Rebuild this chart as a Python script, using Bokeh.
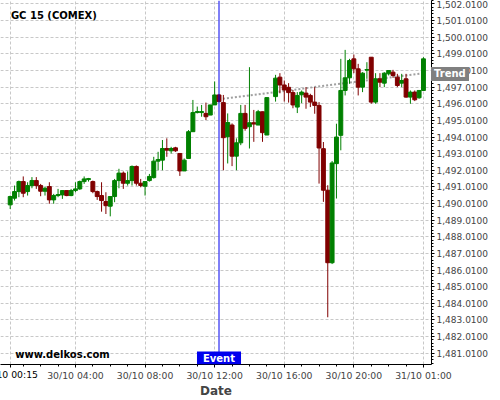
import numpy as np
from bokeh.plotting import figure
from bokeh.models import Range1d, FixedTicker, NumeralTickFormatter, Label, Span, ColumnDataSource
from bokeh.models.dom import Div as DomDiv
from bokeh.embed import file_html
from bokeh.resources import INLINE

NaN = float("nan")

# ---- data (15-minute bars, index based x axis) ----
bar_index = list(range(96))
opens = [1489.93, 1490.33, 1490.73, 1491.33, 1490.73, 1491.09, 1491.39, 1491.09, 1490.75, 1491.03,
         1490.23, 1490.49, 1490.53, 1490.79, 1490.49, 1490.79, 1490.89, 1491.33, 1491.45, 1491.33,
         1490.73, 1490.49, 1490.13, 1489.85, 1490.43, 1491.39, 1491.84, 1491.23, 1491.39, 1492.24,
         1491.23, 1491.05, 1491.39, 1491.57, 1492.56, 1492.62, 1493.32, 1493.18, 1493.36, 1493.02,
         1491.97, 1492.72, 1494.33, 1495.48, 1495.48, 1495.43, 1495.33, 1495.94, 1496.54, 1496.08,
         1494.03, 1494.73, 1492.86, 1493.66, 1495.43, 1494.63, 1494.87, 1494.73, 1495.53, 1494.13,
         NaN, 1496.44, 1497.61, 1497.14, 1497.00, 1496.68, 1495.81, 1496.55, 1496.65, 1496.51,
         1496.11, 1495.91, 1493.31, 1490.81, 1486.45, 1492.41, 1494.11, 1496.81, 1497.57, 1498.71,
         1498.11, 1497.01, 1498.03, 1498.81, 1496.11, 1497.51, 1497.25, 1497.81, 1497.91, 1497.61,
         1497.25, 1497.51, 1496.41, 1496.71, 1496.37, 1496.81]
highs = [1490.49, 1491.09, 1491.39, 1491.64, 1491.29, 1491.60, 1491.60, 1491.19, 1491.03, 1491.29,
         1490.59, 1490.89, 1490.79, 1490.79, 1490.89, 1491.29, 1491.39, 1491.64, 1491.55, 1491.39,
         1490.79, 1491.29, 1490.69, 1490.43, 1491.49, 1492.10, 1491.94, 1491.94, 1492.30, 1492.30,
         1491.49, 1491.33, 1491.79, 1492.82, 1493.12, 1493.83, 1493.93, 1493.42, 1493.42, 1493.02,
         1492.72, 1494.43, 1496.24, 1495.84, 1495.94, 1496.08, 1495.94, 1497.35, 1496.60, 1496.54,
         1495.43, 1494.83, 1493.93, 1495.94, 1495.94, 1498.21, 1495.64, 1495.64, 1495.54, 1496.38,
         NaN, 1497.75, 1497.85, 1497.41, 1497.25, 1496.84, 1496.71, 1496.81, 1497.01, 1496.61,
         1497.01, 1496.11, 1493.71, 1491.11, 1492.57, 1494.81, 1498.71, 1499.25, 1498.71, 1498.97,
         1498.41, 1497.91, 1498.51, 1498.81, 1497.85, 1497.85, 1497.91, 1498.01, 1498.05, 1497.81,
         1497.81, 1497.81, 1496.81, 1496.81, 1496.81, 1498.81]
lows = [1489.68, 1490.19, 1490.39, 1490.39, 1490.49, 1490.93, 1490.89, 1490.45, 1490.49, 1490.00,
        1490.00, 1490.39, 1490.29, 1490.45, 1490.45, 1490.69, 1490.83, 1491.19, 1491.33, 1490.63,
        1490.23, 1489.52, 1489.38, 1489.24, 1490.09, 1490.93, 1490.89, 1491.09, 1491.09, 1491.09,
        1490.99, 1490.49, 1491.33, 1491.51, 1492.01, 1492.01, 1492.82, 1493.02, 1493.12, 1491.67,
        1491.97, 1492.72, 1494.33, 1495.43, 1495.23, 1495.03, 1495.33, 1495.94, 1496.10, 1492.01,
        1492.42, 1492.26, 1492.01, 1493.52, 1494.39, 1493.32, 1493.72, 1494.73, 1493.72, 1494.13,
        NaN, 1496.14, 1496.64, 1496.14, 1496.08, 1495.74, 1495.45, 1496.05, 1495.71, 1495.81,
        1495.41, 1491.21, 1490.11, 1483.17, 1486.37, 1490.31, 1493.21, 1496.51, 1497.21, 1497.85,
        1496.51, 1496.71, 1497.51, 1496.01, 1496.01, 1497.01, 1497.01, 1497.71, 1497.57, 1497.01,
        1497.01, 1496.37, 1496.01, 1496.17, 1496.31, 1496.81]
closes = [1490.43, 1490.73, 1491.33, 1490.63, 1491.09, 1491.39, 1491.09, 1490.75, 1490.93, 1490.23,
          1490.49, 1490.55, 1490.79, 1490.49, 1490.79, 1490.89, 1491.33, 1491.49, 1491.51, 1490.73,
          1490.43, 1490.19, 1489.88, 1490.43, 1491.39, 1491.84, 1491.23, 1491.39, 1492.24, 1491.23,
          1491.09, 1491.33, 1491.64, 1492.56, 1492.66, 1493.32, 1493.22, 1493.32, 1493.18, 1491.97,
          1492.62, 1494.33, 1495.48, 1495.54, 1495.54, 1495.23, 1495.94, 1496.54, 1496.14, 1493.97,
          1494.88, 1492.86, 1493.66, 1495.43, 1494.53, 1494.87, 1494.79, 1495.53, 1494.27, 1496.38,
          NaN, 1497.55, 1497.14, 1496.84, 1496.68, 1495.94, 1496.51, 1496.71, 1496.41, 1496.11,
          1495.91, 1493.35, 1490.81, 1486.45, 1492.45, 1494.01, 1496.81, 1497.57, 1498.61, 1498.11,
          1497.01, 1497.85, 1498.07, 1496.11, 1497.51, 1497.31, 1497.85, 1498.01, 1497.71, 1497.11,
          1497.41, 1496.41, 1496.71, 1496.25, 1496.81, 1498.71]

x_tick_positions = [0, 15, 31, 47, 63, 79, 95]
x_tick_labels = ["30/10 00:15", "30/10 04:00", "30/10 08:00", "30/10 12:00",
                 "30/10 16:00", "30/10 20:00", "31/10 01:00"]
x_minor_positions = [3, 7, 11, 19, 23, 27, 35, 39, 43, 51, 55, 59, 67, 71, 75, 83, 87, 91]
y_ticks = [1481.01, 1482.01, 1483.01, 1484.01, 1485.01, 1486.01, 1487.01, 1488.01, 1489.01, 1490.01,
           1491.01, 1492.01, 1493.01, 1494.01, 1495.01, 1496.01, 1497.01, 1498.01, 1499.01, 1500.01,
           1501.01, 1502.01]

event_index = 48
event_text = "Event"
trend_index = [48, 95]
trend_values = [1496.28, 1497.85]
trend_text = "Trend"
title_text = "GC 15 (COMEX)"
watermark_text = "www.delkos.com"

# ---- build ----
o = np.array(opens, dtype=float)
c = np.array(closes, dtype=float)
up = c >= o
colors = np.where(up, "#008000", "#800000")
src = ColumnDataSource(dict(
    x=bar_index, high=highs, low=lows,
    top=np.fmax(o, c), bottom=np.fmin(o, c), color=list(colors),
))

FONT = "DejaVu Sans"
X0, X1 = -2.23, 96.85
Y0, Y1 = 1480.33, 1502.22
W, H = 500, 400
BORDER_R, BORDER_B = 69, 36
p = figure(width=W, height=H, x_range=Range1d(X0, X1), y_range=Range1d(Y0, Y1),
           y_axis_location="right", toolbar_location=None, output_backend="svg",
           min_border_left=0, min_border_top=0, min_border_right=BORDER_R, min_border_bottom=BORDER_B)
p.outline_line_color = None
p.background_fill_color = "white"
p.border_fill_color = "white"

# axes
xa = p.xaxis[0]
xa.ticker = FixedTicker(ticks=x_tick_positions, minor_ticks=x_minor_positions)
# the first label is cut by the left edge in the original; it is drawn below as a clipped element
xa.major_label_overrides = {pos: (lab if i > 0 else " ")
                            for i, (pos, lab) in enumerate(zip(x_tick_positions, x_tick_labels))}
xa.axis_label = "Date"
xa.axis_label_text_font = FONT
xa.axis_label_text_font_style = "bold"
xa.axis_label_text_font_size = "12px"
xa.axis_label_standoff = 0
xa.major_label_text_font = FONT
xa.major_label_text_font_size = "9.3px"
xa.major_label_standoff = 2
xa.major_tick_out = 3
xa.major_tick_in = 0
xa.minor_tick_out = 2
xa.minor_tick_in = 0
xa.axis_line_color = "black"

ya = p.yaxis[0]
minor_y = [v / 5.0 for v in range(int(1480.41 * 5), int(1502.2 * 5) + 1)]
ya.ticker = FixedTicker(ticks=y_ticks, minor_ticks=[m + 0.01 for m in minor_y])
ya.formatter = NumeralTickFormatter(format="0,0.0000")
ya.major_label_text_font = FONT
ya.major_label_text_font_size = "9px"
ya.major_label_standoff = 2
ya.major_tick_out = 3
ya.major_tick_in = 0
ya.minor_tick_out = 2
ya.minor_tick_in = 0
ya.axis_line_color = "black"

for g in (p.xgrid[0], p.ygrid[0]):
    g.grid_line_color = "#c8c8c8"
    g.grid_line_dash = "3 2"
    g.grid_line_width = 1

# trend line (under candles)
p.line(trend_index, trend_values, line_color="#a0a0a0", line_width=2, line_dash="2 2")

# candles
p.segment(x0="x", y0="low", x1="x", y1="high", color="color", line_width=1, source=src)
p.vbar(x="x", width=0.9, top="top", bottom="bottom", fill_color="color", line_color="color",
       line_width=1, source=src)

# event
p.add_layout(Span(location=event_index, dimension="height", line_color="#0000ee", line_width=1))
p.add_layout(Label(x=event_index, y=Y0, text=event_text, text_align="center",
                   text_baseline="bottom", text_color="white", text_font=FONT,
                   text_font_style="bold", text_font_size="10px",
                   background_fill_color="#0000ee", padding=dict(left=6, right=6, top=1, bottom=1)))

# title and watermark
p.add_layout(Label(x=0.16, y=1501.32, text=title_text, text_align="left", text_baseline="middle",
                   text_font=FONT, text_font_style="bold", text_font_size="10px", text_color="black"))
p.add_layout(Label(x=1.15, y=1480.93, text=watermark_text, text_align="left", text_baseline="middle",
                   text_font=FONT, text_font_style="bold", text_font_size="10px", text_color="black"))

# positions (pixels) of the elements that sit outside the plotting frame
frame_w = W - BORDER_R
frame_h = H - BORDER_B
px_per_x = frame_w / (X1 - X0)
px_per_y = frame_h / (Y1 - Y0)
trend_top = (Y1 - trend_values[-1]) * px_per_y - 6
first_tick_x = (x_tick_positions[0] - X0) * px_per_x

trend_box = DomDiv(style={
    "position": "absolute", "left": f"{frame_w}px", "top": f"{trend_top:.1f}px",
    "height": "14px", "line-height": "14px", "padding": "0px 3px",
    "background-color": "#808080", "color": "white", "font-family": FONT,
    "font-weight": "bold", "font-size": "10px", "white-space": "nowrap", "z-index": "10",
}, children=[trend_text])
first_label = DomDiv(style={
    "position": "absolute", "left": f"{first_tick_x - 40:.1f}px", "top": f"{frame_h + 5}px",
    "width": "80px", "text-align": "center", "line-height": "11px",
    "color": "black", "font-family": FONT, "font-size": "9.3px", "white-space": "nowrap",
}, children=[x_tick_labels[0]])
p.elements = [trend_box, first_label]

open("out.html", "w").write(file_html(p, INLINE))
